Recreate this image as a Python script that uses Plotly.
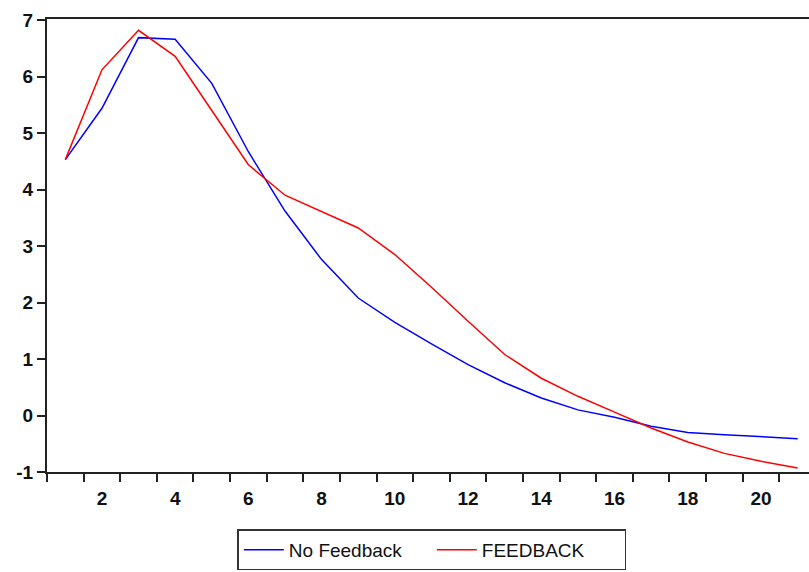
import plotly.graph_objects as go

periods = list(range(1, 22))
no_feedback = [4.53, 5.44, 6.69, 6.66, 5.88, 4.67, 3.62, 2.76, 2.08, 1.65, 1.27,
               0.90, 0.58, 0.31, 0.10, -0.03, -0.19, -0.30, -0.34, -0.38, -0.41]
feedback = [4.53, 6.12, 6.82, 6.36, 5.40, 4.44, 3.90, 3.61, 3.32, 2.85, 2.27,
            1.67, 1.08, 0.66, 0.34, 0.06, -0.22, -0.47, -0.67, -0.81, -0.93]
xtick_labels = [2, 4, 6, 8, 10, 12, 14, 16, 18, 20]
ytick_labels = [-1, 0, 1, 2, 3, 4, 5, 6, 7]

fig = go.Figure()
fig.add_trace(go.Scatter(x=periods, y=no_feedback, mode="lines", name="No Feedback",
                         line=dict(color="#0000FF", width=1.5)))
fig.add_trace(go.Scatter(x=periods, y=feedback, mode="lines", name="FEEDBACK",
                         line=dict(color="#FF0000", width=1.5)))

axis_color = "#222222"
tick_font = dict(family="Liberation Sans, Arial, sans-serif", size=19, color="#111111",
                 weight="bold")

fig.update_layout(
    width=809, height=572,
    margin=dict(l=46.7, r=0, t=19, b=99.5, autoexpand=False),
    paper_bgcolor="white", plot_bgcolor="white",
    showlegend=True,
    legend=dict(orientation="h", x=0.505, xanchor="center", y=-0.2172, yanchor="bottom",
                bordercolor="#333333", borderwidth=1.5,
                font=dict(family="Liberation Sans, Arial, sans-serif", size=19, color="#111111"),
                itemwidth=40, entrywidth=138, entrywidthmode="pixels"),
    xaxis=dict(range=[0.5, 21.31], tickmode="array", tickvals=xtick_labels,
               ticktext=[str(v) for v in xtick_labels], ticks="",
               ticklabelstandoff=8, automargin=False,
               showline=True, linecolor=axis_color, linewidth=2, mirror=True,
               showgrid=False, zeroline=False, tickfont=tick_font,
               minor=dict(tickmode="array", tickvals=[i + 0.5 for i in range(0, 21)],
                          ticks="outside", ticklen=8, tickwidth=2, tickcolor=axis_color,
                          showgrid=False)),
    yaxis=dict(range=[-1, 7.02], tickmode="array", tickvals=ytick_labels,
               ticktext=[str(v) for v in ytick_labels], automargin=False,
               ticks="outside", ticklen=8, tickwidth=2, tickcolor=axis_color,
               showline=True, linecolor=axis_color, linewidth=2,
               showgrid=False, zeroline=False, tickfont=tick_font),
)

fig.write_html("out.html", config={"displayModeBar": False},
               post_script="document.body.style.margin='0';document.body.style.overflow='hidden';")
